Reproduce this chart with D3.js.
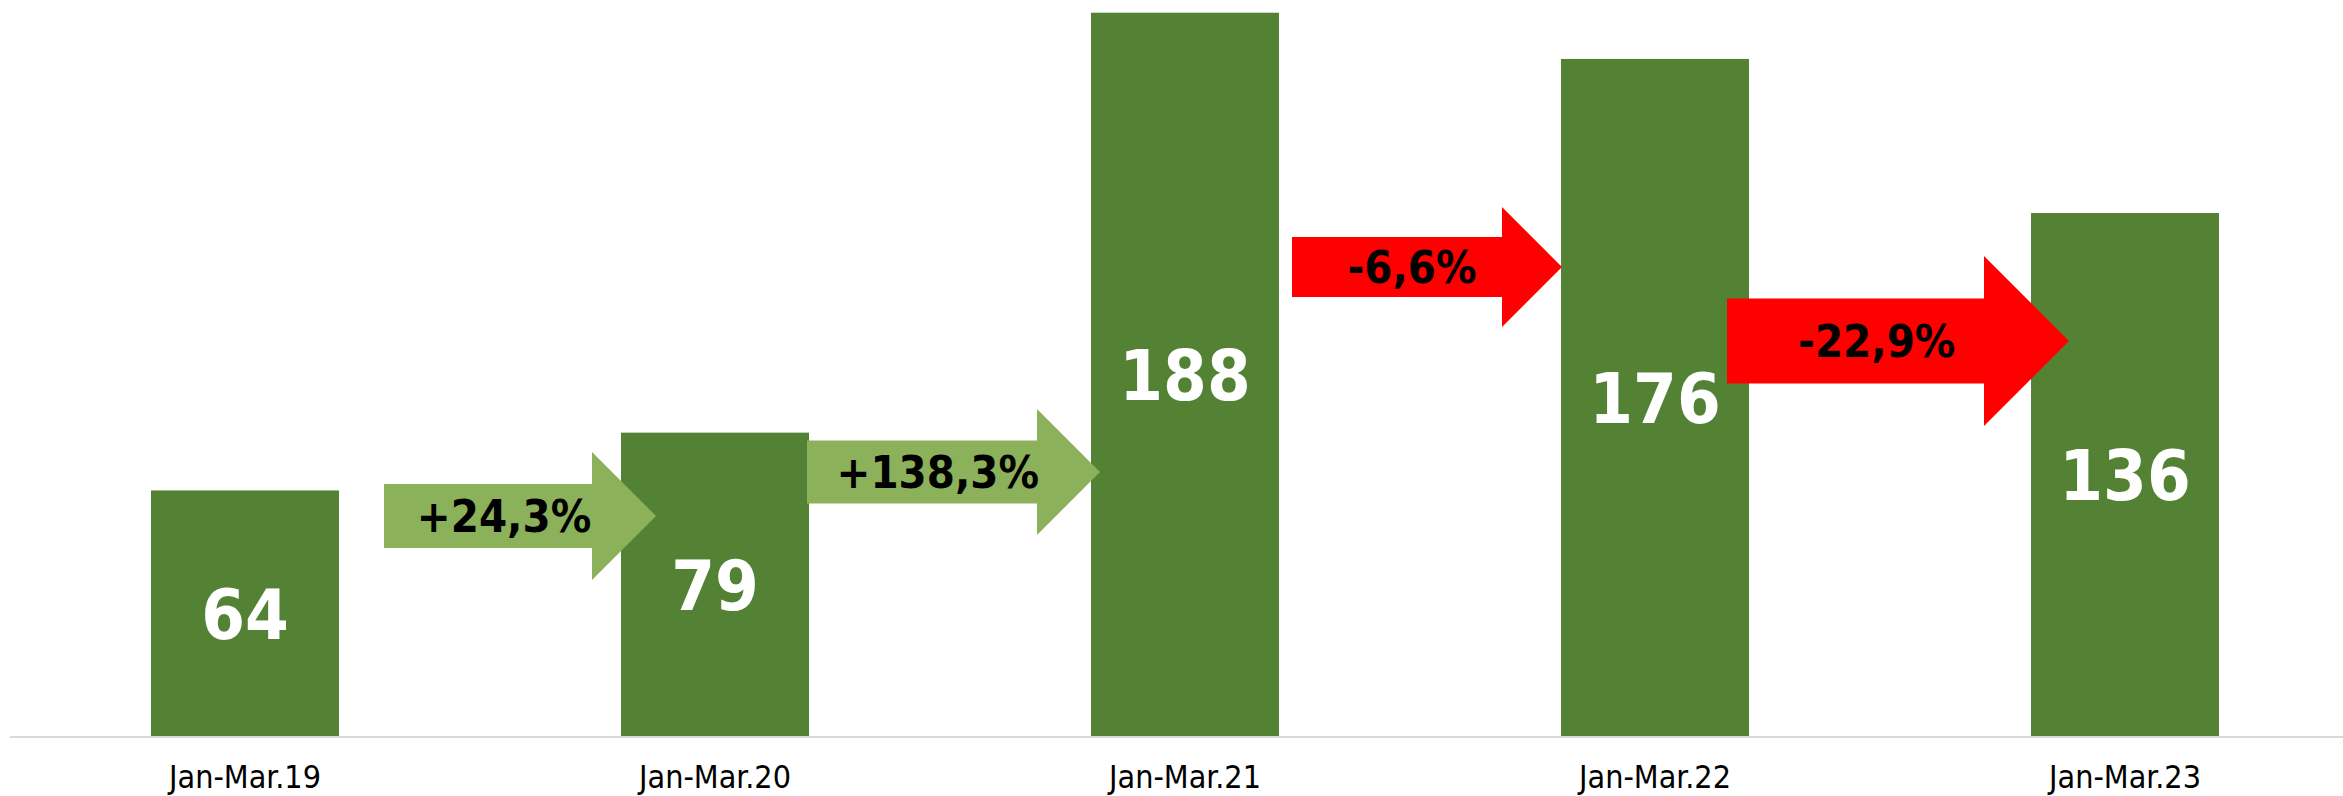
<!DOCTYPE html>
<html>
<head>
<meta charset="utf-8">
<script src="https://cdn.jsdelivr.net/npm/d3@7"></script>
<style>
  html, body { margin: 0; padding: 0; background: #ffffff; }
  svg { display: block; }
</style>
</head>
<body>
<script>
// ---- Data ----
const categories = ["Jan-Mar.19", "Jan-Mar.20", "Jan-Mar.21", "Jan-Mar.22", "Jan-Mar.23"];
const values = [64, 79, 188, 176, 136];
const changeLabels = ["+24,3%", "+138,3%", "-6,6%", "-22,9%"];
const changeDirections = ["up", "up", "down", "down"];

// ---- Layout (annotation arrows placed as in the original, pixels) ----
const W = 2343, H = 796;
const arrowLayout = [
  { x0: 384,  x1: 656,  yc: 516, h: 64 },
  { x0: 807,  x1: 1100, yc: 472, h: 63 },
  { x0: 1292, x1: 1562, yc: 267, h: 60 },
  { x0: 1727, x1: 2069, yc: 341, h: 85 }
];
const colors = { bar: "#548235", up: "#8CB15B", down: "#FF0000", axis: "#D9D9D9" };
const font = "'DejaVu Sans Condensed', 'DejaVu Sans', sans-serif";

const svg = d3.select("body").append("svg").attr("width", W).attr("height", H);

const x = d3.scaleBand().domain(categories).range([10, 2360]).paddingInner(0.6).paddingOuter(0.3);
const y = d3.scaleLinear().domain([0, 190]).range([737, 5]);

// Bars
svg.append("g").selectAll("rect").data(values).join("rect")
  .attr("x", (d, i) => x(categories[i]))
  .attr("width", x.bandwidth())
  .attr("y", d => y(d))
  .attr("height", d => y(0) - y(d))
  .attr("fill", colors.bar);

// Value labels (centered in bars)
svg.append("g").selectAll("text").data(values).join("text")
  .attr("x", (d, i) => x(categories[i]) + x.bandwidth() / 2)
  .attr("y", d => (y(d) + y(0)) / 2 + 25)
  .attr("text-anchor", "middle")
  .attr("font-family", font)
  .attr("font-weight", "bold")
  .attr("font-size", 70)
  .attr("fill", "#ffffff")
  .text(d => d);

// Baseline axis
const xAxis = d3.axisBottom(x).tickSize(0).tickPadding(0);
const gx = svg.append("g").attr("transform", `translate(0,${y(0)})`).call(xAxis);
gx.select(".domain").remove();
gx.append("line").attr("x1", 10).attr("x2", W).attr("y1", 0).attr("y2", 0)
  .attr("stroke", colors.axis).attr("stroke-width", 2);
gx.selectAll(".tick text")
  .attr("y", 51)
  .attr("dy", 0)
  .attr("font-family", font)
  .attr("font-size", 32)
  .attr("fill", "#000000");

// Change arrows
const arrowPath = a => {
  const xb = a.x1 - a.h;
  const p = d3.path();
  p.moveTo(a.x0, a.yc - a.h / 2);
  p.lineTo(xb, a.yc - a.h / 2);
  p.lineTo(xb, a.yc - a.h);
  p.lineTo(a.x1, a.yc);
  p.lineTo(xb, a.yc + a.h);
  p.lineTo(xb, a.yc + a.h / 2);
  p.lineTo(a.x0, a.yc + a.h / 2);
  p.closePath();
  return p.toString();
};
const ag = svg.append("g").selectAll("g").data(changeLabels).join("g");
ag.append("path")
  .attr("d", (d, i) => arrowPath(arrowLayout[i]))
  .attr("fill", (d, i) => colors[changeDirections[i]]);
ag.append("text")
  .attr("x", (d, i) => {
    const a = arrowLayout[i];
    const bodyC = (a.x0 + a.x1 - a.h) / 2, allC = (a.x0 + a.x1) / 2;
    return (bodyC + allC) / 2;
  })
  .attr("y", (d, i) => arrowLayout[i].yc + 16)
  .attr("text-anchor", "middle")
  .attr("font-family", font)
  .attr("font-weight", "bold")
  .attr("font-size", 45)
  .attr("fill", "#000000")
  .text(d => d);
</script>
</body>
</html>
